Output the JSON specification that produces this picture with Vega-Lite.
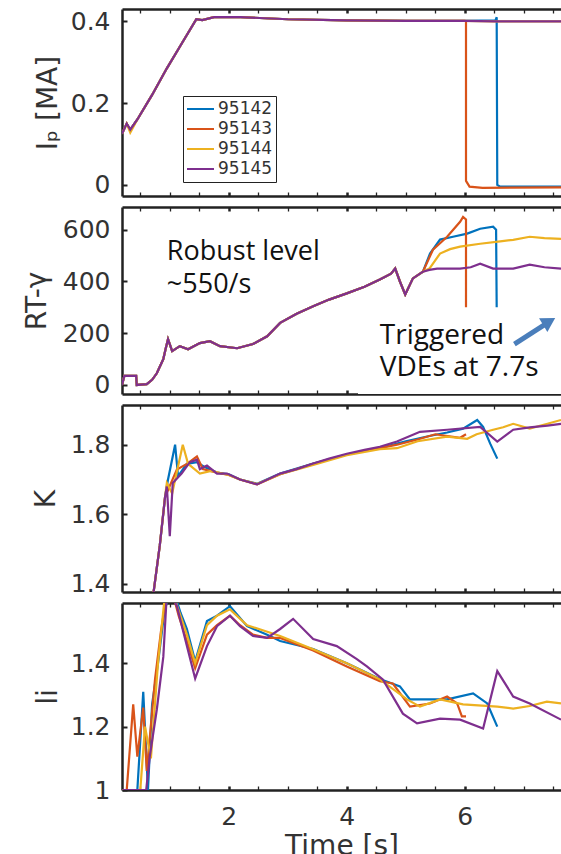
{
 "$schema": "https://vega.github.io/schema/vega-lite/v6.json",
 "padding": {"left": 23, "top": 7, "right": 0, "bottom": 0},
 "spacing": 11,
 "bounds": "flush",
 "config": {
  "view": {"stroke": null},
  "font": "DejaVu Sans",
  "axis": {"domainColor": "#222", "domainWidth": 2.5, "tickColor": "#222", "tickWidth": 2, "tickSize": -5, "labelFontSize": 25, "labelColor": "#333", "labelFont": "DejaVu Sans", "titleFont": "DejaVu Sans", "titleFontSize": 28, "titleFontWeight": "normal", "titleColor": "#333", "grid": false, "labelPadding": 17},
  "axisX": {"values": [0.5, 1, 1.5, 2, 2.5, 3, 3.5, 4, 4.5, 5, 5.5, 6, 6.5, 7, 7.5], "tickSize": -4, "tickWidth": {"condition": {"test": "datum.value % 2 === 0", "value": 2.5}, "value": 1.3}, "labelExpr": "datum.value % 2 === 0 ? '' + datum.value : ''"}
 },
 "resolve": {"scale": {"color": "independent"}, "legend": {"color": "independent"}},
 "datasets": {
  "ip": [
   {"s":"95142","t":0.19,"v":0.125},{"s":"95142","t":0.27,"v":0.15},{"s":"95142","t":0.33,"v":0.135},{"s":"95142","t":0.45,"v":0.16},{"s":"95142","t":0.7,"v":0.22},{"s":"95142","t":0.95,"v":0.285},{"s":"95142","t":1.2,"v":0.345},{"s":"95142","t":1.45,"v":0.405},{"s":"95142","t":1.55,"v":0.403},{"s":"95142","t":1.75,"v":0.41},{"s":"95142","t":2.2,"v":0.41},{"s":"95142","t":3.0,"v":0.405},{"s":"95142","t":4.0,"v":0.402},{"s":"95142","t":5.0,"v":0.401},{"s":"95142","t":6.0,"v":0.401},{"s":"95142","t":6.52,"v":0.402},{"s":"95142","t":6.54,"v":0.41},{"s":"95142","t":6.55,"v":0.0},{"s":"95142","t":6.6,"v":-0.004},{"s":"95142","t":7.63,"v":-0.004},
   {"s":"95143","t":0.19,"v":0.125},{"s":"95143","t":0.27,"v":0.15},{"s":"95143","t":0.33,"v":0.135},{"s":"95143","t":0.45,"v":0.16},{"s":"95143","t":0.7,"v":0.22},{"s":"95143","t":0.95,"v":0.285},{"s":"95143","t":1.2,"v":0.345},{"s":"95143","t":1.45,"v":0.405},{"s":"95143","t":1.55,"v":0.403},{"s":"95143","t":1.75,"v":0.41},{"s":"95143","t":2.2,"v":0.41},{"s":"95143","t":3.0,"v":0.405},{"s":"95143","t":4.0,"v":0.402},{"s":"95143","t":5.0,"v":0.401},{"s":"95143","t":6.0,"v":0.401},{"s":"95143","t":6.02,"v":0.40},{"s":"95143","t":6.02,"v":0.01},{"s":"95143","t":6.08,"v":-0.004},{"s":"95143","t":6.3,"v":-0.007},{"s":"95143","t":7.63,"v":-0.006},
   {"s":"95144","t":0.19,"v":0.125},{"s":"95144","t":0.27,"v":0.15},{"s":"95144","t":0.33,"v":0.128},{"s":"95144","t":0.45,"v":0.16},{"s":"95144","t":0.7,"v":0.22},{"s":"95144","t":0.95,"v":0.285},{"s":"95144","t":1.2,"v":0.345},{"s":"95144","t":1.45,"v":0.405},{"s":"95144","t":1.55,"v":0.403},{"s":"95144","t":1.75,"v":0.41},{"s":"95144","t":2.2,"v":0.41},{"s":"95144","t":3.0,"v":0.405},{"s":"95144","t":4.0,"v":0.402},{"s":"95144","t":5.0,"v":0.401},{"s":"95144","t":6.0,"v":0.401},{"s":"95144","t":6.5,"v":0.40},{"s":"95144","t":7.63,"v":0.40},
   {"s":"95145","t":0.19,"v":0.125},{"s":"95145","t":0.27,"v":0.15},{"s":"95145","t":0.33,"v":0.135},{"s":"95145","t":0.45,"v":0.16},{"s":"95145","t":0.7,"v":0.22},{"s":"95145","t":0.95,"v":0.285},{"s":"95145","t":1.2,"v":0.345},{"s":"95145","t":1.45,"v":0.405},{"s":"95145","t":1.55,"v":0.403},{"s":"95145","t":1.75,"v":0.41},{"s":"95145","t":2.2,"v":0.41},{"s":"95145","t":3.0,"v":0.405},{"s":"95145","t":4.0,"v":0.402},{"s":"95145","t":5.0,"v":0.401},{"s":"95145","t":6.0,"v":0.401},{"s":"95145","t":6.5,"v":0.40},{"s":"95145","t":7.63,"v":0.40}
  ],
  "rt": [
   {"s":"95142","t":0.19,"v":0},{"s":"95142","t":0.23,"v":35},{"s":"95142","t":0.43,"v":35},{"s":"95142","t":0.44,"v":0},{"s":"95142","t":0.61,"v":3},{"s":"95142","t":0.7,"v":20},{"s":"95142","t":0.78,"v":45},{"s":"95142","t":0.85,"v":80},{"s":"95142","t":0.89,"v":100},{"s":"95142","t":0.93,"v":140},{"s":"95142","t":0.97,"v":177},{"s":"95142","t":1.04,"v":131},{"s":"95142","t":1.17,"v":150},{"s":"95142","t":1.31,"v":138},{"s":"95142","t":1.51,"v":162},{"s":"95142","t":1.68,"v":169},{"s":"95142","t":1.85,"v":150},{"s":"95142","t":2.14,"v":142},{"s":"95142","t":2.41,"v":158},{"s":"95142","t":2.65,"v":188},{"s":"95142","t":2.87,"v":240},{"s":"95142","t":3.15,"v":275},{"s":"95142","t":3.43,"v":304},{"s":"95142","t":3.7,"v":330},{"s":"95142","t":4.0,"v":354},{"s":"95142","t":4.3,"v":380},{"s":"95142","t":4.56,"v":408},{"s":"95142","t":4.75,"v":430},{"s":"95142","t":4.82,"v":450},{"s":"95142","t":4.9,"v":400},{"s":"95142","t":4.99,"v":350},{"s":"95142","t":5.12,"v":412},{"s":"95142","t":5.29,"v":438},{"s":"95142","t":5.41,"v":508},{"s":"95142","t":5.58,"v":562},{"s":"95142","t":5.8,"v":573},{"s":"95142","t":6.04,"v":585},{"s":"95142","t":6.26,"v":604},{"s":"95142","t":6.48,"v":612},{"s":"95142","t":6.53,"v":600},{"s":"95142","t":6.55,"v":0},{"s":"95142","t":7.63,"v":0},
   {"s":"95143","t":0.19,"v":0},{"s":"95143","t":0.23,"v":35},{"s":"95143","t":0.43,"v":35},{"s":"95143","t":0.44,"v":0},{"s":"95143","t":0.61,"v":3},{"s":"95143","t":0.7,"v":20},{"s":"95143","t":0.78,"v":45},{"s":"95143","t":0.85,"v":80},{"s":"95143","t":0.89,"v":100},{"s":"95143","t":0.93,"v":140},{"s":"95143","t":0.97,"v":177},{"s":"95143","t":1.04,"v":131},{"s":"95143","t":1.17,"v":150},{"s":"95143","t":1.31,"v":138},{"s":"95143","t":1.51,"v":162},{"s":"95143","t":1.68,"v":169},{"s":"95143","t":1.85,"v":150},{"s":"95143","t":2.14,"v":142},{"s":"95143","t":2.41,"v":158},{"s":"95143","t":2.65,"v":188},{"s":"95143","t":2.87,"v":240},{"s":"95143","t":3.15,"v":275},{"s":"95143","t":3.43,"v":304},{"s":"95143","t":3.7,"v":330},{"s":"95143","t":4.0,"v":354},{"s":"95143","t":4.3,"v":380},{"s":"95143","t":4.56,"v":408},{"s":"95143","t":4.75,"v":430},{"s":"95143","t":4.82,"v":450},{"s":"95143","t":4.9,"v":400},{"s":"95143","t":4.99,"v":350},{"s":"95143","t":5.12,"v":412},{"s":"95143","t":5.29,"v":438},{"s":"95143","t":5.46,"v":523},{"s":"95143","t":5.70,"v":573},{"s":"95143","t":5.92,"v":631},{"s":"95143","t":5.97,"v":650},{"s":"95143","t":6.02,"v":640},{"s":"95143","t":6.02,"v":0},{"s":"95143","t":7.63,"v":0},
   {"s":"95144","t":0.19,"v":0},{"s":"95144","t":0.23,"v":35},{"s":"95144","t":0.43,"v":35},{"s":"95144","t":0.44,"v":0},{"s":"95144","t":0.61,"v":3},{"s":"95144","t":0.7,"v":20},{"s":"95144","t":0.78,"v":45},{"s":"95144","t":0.85,"v":80},{"s":"95144","t":0.89,"v":100},{"s":"95144","t":0.93,"v":140},{"s":"95144","t":0.97,"v":177},{"s":"95144","t":1.04,"v":131},{"s":"95144","t":1.17,"v":150},{"s":"95144","t":1.31,"v":138},{"s":"95144","t":1.51,"v":162},{"s":"95144","t":1.68,"v":169},{"s":"95144","t":1.85,"v":150},{"s":"95144","t":2.14,"v":142},{"s":"95144","t":2.41,"v":158},{"s":"95144","t":2.65,"v":188},{"s":"95144","t":2.87,"v":240},{"s":"95144","t":3.15,"v":275},{"s":"95144","t":3.43,"v":304},{"s":"95144","t":3.7,"v":330},{"s":"95144","t":4.0,"v":354},{"s":"95144","t":4.3,"v":380},{"s":"95144","t":4.56,"v":408},{"s":"95144","t":4.75,"v":430},{"s":"95144","t":4.82,"v":450},{"s":"95144","t":4.9,"v":400},{"s":"95144","t":4.99,"v":350},{"s":"95144","t":5.12,"v":412},{"s":"95144","t":5.29,"v":438},{"s":"95144","t":5.4,"v":450},{"s":"95144","t":5.58,"v":508},{"s":"95144","t":5.75,"v":525},{"s":"95144","t":5.92,"v":535},{"s":"95144","t":6.26,"v":546},{"s":"95144","t":6.6,"v":555},{"s":"95144","t":6.82,"v":561},{"s":"95144","t":7.1,"v":573},{"s":"95144","t":7.35,"v":568},{"s":"95144","t":7.63,"v":565},
   {"s":"95145","t":0.19,"v":0},{"s":"95145","t":0.23,"v":35},{"s":"95145","t":0.43,"v":35},{"s":"95145","t":0.44,"v":0},{"s":"95145","t":0.61,"v":3},{"s":"95145","t":0.7,"v":20},{"s":"95145","t":0.78,"v":45},{"s":"95145","t":0.85,"v":80},{"s":"95145","t":0.89,"v":100},{"s":"95145","t":0.93,"v":140},{"s":"95145","t":0.97,"v":177},{"s":"95145","t":1.04,"v":131},{"s":"95145","t":1.17,"v":150},{"s":"95145","t":1.31,"v":138},{"s":"95145","t":1.51,"v":162},{"s":"95145","t":1.68,"v":169},{"s":"95145","t":1.85,"v":150},{"s":"95145","t":2.14,"v":142},{"s":"95145","t":2.41,"v":158},{"s":"95145","t":2.65,"v":188},{"s":"95145","t":2.87,"v":240},{"s":"95145","t":3.15,"v":275},{"s":"95145","t":3.43,"v":304},{"s":"95145","t":3.7,"v":330},{"s":"95145","t":4.0,"v":354},{"s":"95145","t":4.3,"v":380},{"s":"95145","t":4.56,"v":408},{"s":"95145","t":4.75,"v":430},{"s":"95145","t":4.82,"v":450},{"s":"95145","t":4.9,"v":400},{"s":"95145","t":4.99,"v":350},{"s":"95145","t":5.12,"v":412},{"s":"95145","t":5.29,"v":438},{"s":"95145","t":5.4,"v":445},{"s":"95145","t":5.53,"v":450},{"s":"95145","t":5.92,"v":450},{"s":"95145","t":6.1,"v":455},{"s":"95145","t":6.26,"v":469},{"s":"95145","t":6.48,"v":450},{"s":"95145","t":6.82,"v":450},{"s":"95145","t":7.1,"v":465},{"s":"95145","t":7.35,"v":455},{"s":"95145","t":7.63,"v":450}
  ],
  "k": [
   {"s":"95142","t":0.72,"v":1.37},{"s":"95142","t":0.83,"v":1.51},{"s":"95142","t":0.92,"v":1.65},{"s":"95142","t":0.97,"v":1.70},{"s":"95142","t":1.09,"v":1.80},{"s":"95142","t":1.14,"v":1.71},{"s":"95142","t":1.29,"v":1.745},{"s":"95142","t":1.46,"v":1.75},{"s":"95142","t":1.6,"v":1.735},{"s":"95142","t":1.8,"v":1.72},{"s":"95142","t":2.0,"v":1.715},{"s":"95142","t":2.19,"v":1.70},{"s":"95142","t":2.48,"v":1.688},{"s":"95142","t":2.87,"v":1.717},{"s":"95142","t":3.43,"v":1.746},{"s":"95142","t":4.0,"v":1.772},{"s":"95142","t":4.56,"v":1.79},{"s":"95142","t":5.0,"v":1.81},{"s":"95142","t":5.4,"v":1.825},{"s":"95142","t":5.7,"v":1.835},{"s":"95142","t":5.97,"v":1.846},{"s":"95142","t":6.21,"v":1.871},{"s":"95142","t":6.31,"v":1.851},{"s":"95142","t":6.43,"v":1.803},{"s":"95142","t":6.55,"v":1.76},
   {"s":"95143","t":0.72,"v":1.37},{"s":"95143","t":0.83,"v":1.51},{"s":"95143","t":0.92,"v":1.65},{"s":"95143","t":0.97,"v":1.67},{"s":"95143","t":1.12,"v":1.729},{"s":"95143","t":1.29,"v":1.745},{"s":"95143","t":1.46,"v":1.766},{"s":"95143","t":1.56,"v":1.73},{"s":"95143","t":1.8,"v":1.72},{"s":"95143","t":2.0,"v":1.713},{"s":"95143","t":2.19,"v":1.70},{"s":"95143","t":2.48,"v":1.686},{"s":"95143","t":2.87,"v":1.715},{"s":"95143","t":3.43,"v":1.745},{"s":"95143","t":4.0,"v":1.772},{"s":"95143","t":4.56,"v":1.79},{"s":"95143","t":4.85,"v":1.80},{"s":"95143","t":5.2,"v":1.815},{"s":"95143","t":5.5,"v":1.83},{"s":"95143","t":5.92,"v":1.82},{"s":"95143","t":6.02,"v":1.83},
   {"s":"95144","t":0.72,"v":1.37},{"s":"95144","t":0.83,"v":1.51},{"s":"95144","t":0.92,"v":1.65},{"s":"95144","t":0.95,"v":1.69},{"s":"95144","t":1.04,"v":1.66},{"s":"95144","t":1.22,"v":1.80},{"s":"95144","t":1.31,"v":1.745},{"s":"95144","t":1.51,"v":1.717},{"s":"95144","t":1.7,"v":1.725},{"s":"95144","t":2.0,"v":1.713},{"s":"95144","t":2.19,"v":1.70},{"s":"95144","t":2.48,"v":1.687},{"s":"95144","t":2.87,"v":1.715},{"s":"95144","t":3.43,"v":1.742},{"s":"95144","t":4.0,"v":1.77},{"s":"95144","t":4.56,"v":1.787},{"s":"95144","t":4.85,"v":1.79},{"s":"95144","t":5.2,"v":1.81},{"s":"95144","t":5.7,"v":1.823},{"s":"95144","t":6.04,"v":1.817},{"s":"95144","t":6.2,"v":1.83},{"s":"95144","t":6.48,"v":1.843},{"s":"95144","t":6.65,"v":1.85},{"s":"95144","t":6.82,"v":1.86},{"s":"95144","t":7.1,"v":1.846},{"s":"95144","t":7.4,"v":1.86},{"s":"95144","t":7.63,"v":1.871},
   {"s":"95145","t":0.72,"v":1.37},{"s":"95145","t":0.83,"v":1.51},{"s":"95145","t":0.92,"v":1.65},{"s":"95145","t":0.95,"v":1.68},{"s":"95145","t":1.0,"v":1.537},{"s":"95145","t":1.05,"v":1.69},{"s":"95145","t":1.2,"v":1.717},{"s":"95145","t":1.34,"v":1.75},{"s":"95145","t":1.46,"v":1.757},{"s":"95145","t":1.51,"v":1.73},{"s":"95145","t":1.63,"v":1.74},{"s":"95145","t":1.80,"v":1.717},{"s":"95145","t":1.97,"v":1.717},{"s":"95145","t":2.19,"v":1.70},{"s":"95145","t":2.48,"v":1.686},{"s":"95145","t":2.87,"v":1.717},{"s":"95145","t":3.15,"v":1.73},{"s":"95145","t":3.43,"v":1.746},{"s":"95145","t":3.7,"v":1.76},{"s":"95145","t":4.0,"v":1.774},{"s":"95145","t":4.3,"v":1.785},{"s":"95145","t":4.56,"v":1.794},{"s":"95145","t":4.85,"v":1.809},{"s":"95145","t":5.24,"v":1.837},{"s":"95145","t":5.7,"v":1.843},{"s":"95145","t":6.26,"v":1.851},{"s":"95145","t":6.55,"v":1.809},{"s":"95145","t":6.82,"v":1.843},{"s":"95145","t":7.1,"v":1.85},{"s":"95145","t":7.4,"v":1.855},{"s":"95145","t":7.63,"v":1.86}
  ],
  "li": [
   {"s":"95142","t":0.2,"v":1.0},{"s":"95142","t":0.45,"v":1.0},{"s":"95142","t":0.55,"v":1.31},{"s":"95142","t":0.63,"v":1.0},{"s":"95142","t":0.70,"v":1.27},{"s":"95142","t":0.8,"v":1.4},{"s":"95142","t":0.9,"v":1.55},{"s":"95142","t":0.98,"v":1.62},{"s":"95142","t":1.08,"v":1.62},{"s":"95142","t":1.18,"v":1.56},{"s":"95142","t":1.29,"v":1.508},{"s":"95142","t":1.43,"v":1.406},{"s":"95142","t":1.63,"v":1.533},{"s":"95142","t":1.8,"v":1.55},{"s":"95142","t":2.02,"v":1.58},{"s":"95142","t":2.31,"v":1.517},{"s":"95142","t":2.65,"v":1.49},{"s":"95142","t":2.87,"v":1.47},{"s":"95142","t":3.43,"v":1.445},{"s":"95142","t":4.0,"v":1.40},{"s":"95142","t":4.56,"v":1.35},{"s":"95142","t":4.9,"v":1.327},{"s":"95142","t":5.07,"v":1.286},{"s":"95142","t":5.7,"v":1.286},{"s":"95142","t":6.14,"v":1.305},{"s":"95142","t":6.38,"v":1.273},{"s":"95142","t":6.55,"v":1.20},
   {"s":"95143","t":0.2,"v":1.0},{"s":"95143","t":0.27,"v":1.0},{"s":"95143","t":0.38,"v":1.27},{"s":"95143","t":0.45,"v":1.105},{"s":"95143","t":0.55,"v":1.26},{"s":"95143","t":0.61,"v":1.06},{"s":"95143","t":0.75,"v":1.35},{"s":"95143","t":0.85,"v":1.5},{"s":"95143","t":0.95,"v":1.62},{"s":"95143","t":1.05,"v":1.62},{"s":"95143","t":1.15,"v":1.55},{"s":"95143","t":1.29,"v":1.47},{"s":"95143","t":1.43,"v":1.384},{"s":"95143","t":1.63,"v":1.49},{"s":"95143","t":1.8,"v":1.52},{"s":"95143","t":2.02,"v":1.55},{"s":"95143","t":2.19,"v":1.52},{"s":"95143","t":2.41,"v":1.49},{"s":"95143","t":2.65,"v":1.48},{"s":"95143","t":2.87,"v":1.48},{"s":"95143","t":3.43,"v":1.44},{"s":"95143","t":4.0,"v":1.39},{"s":"95143","t":4.56,"v":1.343},{"s":"95143","t":4.78,"v":1.336},{"s":"95143","t":5.07,"v":1.263},{"s":"95143","t":5.41,"v":1.273},{"s":"95143","t":5.70,"v":1.295},{"s":"95143","t":5.87,"v":1.273},{"s":"95143","t":5.95,"v":1.232},{"s":"95143","t":6.02,"v":1.232},
   {"s":"95144","t":0.2,"v":1.0},{"s":"95144","t":0.5,"v":1.0},{"s":"95144","t":0.58,"v":1.2},{"s":"95144","t":0.68,"v":1.1},{"s":"95144","t":0.8,"v":1.4},{"s":"95144","t":0.92,"v":1.62},{"s":"95144","t":1.05,"v":1.62},{"s":"95144","t":1.18,"v":1.55},{"s":"95144","t":1.29,"v":1.49},{"s":"95144","t":1.43,"v":1.40},{"s":"95144","t":1.63,"v":1.52},{"s":"95144","t":1.8,"v":1.55},{"s":"95144","t":2.02,"v":1.57},{"s":"95144","t":2.31,"v":1.52},{"s":"95144","t":2.87,"v":1.486},{"s":"95144","t":3.43,"v":1.444},{"s":"95144","t":4.0,"v":1.40},{"s":"95144","t":4.56,"v":1.349},{"s":"95144","t":5.02,"v":1.286},{"s":"95144","t":5.24,"v":1.263},{"s":"95144","t":5.58,"v":1.286},{"s":"95144","t":5.97,"v":1.27},{"s":"95144","t":6.55,"v":1.263},{"s":"95144","t":6.82,"v":1.257},{"s":"95144","t":7.1,"v":1.265},{"s":"95144","t":7.39,"v":1.279},{"s":"95144","t":7.63,"v":1.273},
   {"s":"95145","t":0.2,"v":1.0},{"s":"95145","t":0.6,"v":1.0},{"s":"95145","t":0.66,"v":1.105},{"s":"95145","t":0.78,"v":1.254},{"s":"95145","t":0.89,"v":1.42},{"s":"95145","t":0.95,"v":1.62},{"s":"95145","t":1.02,"v":1.62},{"s":"95145","t":1.12,"v":1.58},{"s":"95145","t":1.29,"v":1.454},{"s":"95145","t":1.43,"v":1.352},{"s":"95145","t":1.63,"v":1.454},{"s":"95145","t":1.80,"v":1.517},{"s":"95145","t":2.02,"v":1.55},{"s":"95145","t":2.19,"v":1.517},{"s":"95145","t":2.41,"v":1.486},{"s":"95145","t":2.65,"v":1.48},{"s":"95145","t":2.87,"v":1.508},{"s":"95145","t":3.09,"v":1.54},{"s":"95145","t":3.43,"v":1.476},{"s":"95145","t":3.83,"v":1.454},{"s":"95145","t":4.17,"v":1.413},{"s":"95145","t":4.34,"v":1.39},{"s":"95145","t":4.61,"v":1.349},{"s":"95145","t":4.95,"v":1.241},{"s":"95145","t":5.19,"v":1.21},{"s":"95145","t":5.58,"v":1.225},{"s":"95145","t":5.92,"v":1.222},{"s":"95145","t":6.31,"v":1.194},{"s":"95145","t":6.55,"v":1.375},{"s":"95145","t":6.82,"v":1.295},{"s":"95145","t":7.1,"v":1.273},{"s":"95145","t":7.63,"v":1.222}
  ]
 },
 "vconcat": [
  {
   "width": 439, "height": 187,
   "resolve": {"scale": {"x": "independent"}, "axis": {"x": "independent"}},
   "layer": [
    {
     "data": {"name": "ip"},
     "mark": {"type": "line", "strokeWidth": 2.2, "clip": true},
     "encoding": {
      "x": {"field": "t", "type": "quantitative", "scale": {"domain": [0.19, 7.63], "nice": false, "zero": false}, "axis": {"orient": "bottom", "labels": false, "title": null}},
      "y": {"field": "v", "type": "quantitative", "scale": {"domain": [-0.027, 0.43], "nice": false, "zero": false}, "axis": {"values": [0, 0.2, 0.4], "labelExpr": "'' + datum.value", "title": "Iₚ [MA]", "titleX": -66, "titleBaseline": "alphabetic"}},
      "color": {"field": "s", "type": "nominal", "scale": {"domain": ["95142", "95143", "95144", "95145"], "range": ["#0072BD", "#D95319", "#EDB120", "#7E2F8E"]},
       "legend": {"orient": "none", "legendX": 61, "legendY": 87, "title": null, "symbolType": "stroke", "symbolSize": 729, "clipHeight": 20, "symbolStrokeWidth": 2, "labelFontSize": 17, "labelFont": "DejaVu Sans", "labelColor": "#333", "strokeColor": "#222", "fillColor": "white", "padding": 3, "rowPadding": 0, "labelOffset": 3}}
     }
    },
    {
     "data": {"name": "ip"},
     "mark": {"type": "line", "opacity": 0},
     "encoding": {
      "x": {"field": "t", "type": "quantitative", "scale": {"domain": [0.19, 7.63], "nice": false, "zero": false}, "axis": {"orient": "top", "labels": false, "title": null}},
      "y": {"field": "v", "type": "quantitative"}
     }
    }
   ]
  },
  {
   "width": 439, "height": 187,
   "resolve": {"scale": {"x": "independent"}, "axis": {"x": "independent"}},
   "layer": [
    {
     "layer": [
      {
       "data": {"name": "rt"},
       "mark": {"type": "line", "strokeWidth": 2.2, "clip": true},
       "encoding": {
        "x": {"field": "t", "type": "quantitative", "scale": {"domain": [0.19, 7.63], "nice": false, "zero": false}, "axis": {"orient": "bottom", "labels": false, "title": null}},
        "y": {"field": "v", "type": "quantitative", "scale": {"domain": [-35, 688], "nice": false, "zero": false}, "axis": {"values": [0, 200, 400, 600], "title": "RT-γ", "titleX": -77, "titleBaseline": "alphabetic"}},
        "color": {"field": "s", "type": "nominal", "scale": {"domain": ["95142", "95143", "95144", "95145"], "range": ["#0072BD", "#D95319", "#EDB120", "#7E2F8E"]}, "legend": null}
       }
      },
      {
       "data": {"values": [{"t1": 4.19, "t2": 7.63, "v1": -35, "v2": 300}]},
       "mark": {"type": "rect", "fill": "white", "clip": true},
       "encoding": {
        "x": {"field": "t1", "type": "quantitative"}, "x2": {"field": "t2"},
        "y": {"field": "v1", "type": "quantitative"}, "y2": {"field": "v2"}
       }
      },
      {
       "data": {"values": [{"t": 0.95, "v": 485, "label": "Robust level"}, {"t": 0.95, "v": 354, "label": "~550/s"}]},
       "mark": {"type": "text", "align": "left", "baseline": "alphabetic", "font": "Open Sans", "fontSize": 27, "color": "#111"},
       "encoding": {"x": {"field": "t", "type": "quantitative"}, "y": {"field": "v", "type": "quantitative"}, "text": {"field": "label"}}
      },
      {
       "data": {"values": [{"t": 4.56, "v": 158, "label": "Triggered"}, {"t": 4.56, "v": 35, "label": "VDEs at 7.7s"}]},
       "mark": {"type": "text", "align": "left", "baseline": "alphabetic", "font": "Open Sans", "fontSize": 28, "color": "#111"},
       "encoding": {"x": {"field": "t", "type": "quantitative"}, "y": {"field": "v", "type": "quantitative"}, "text": {"field": "label"}}
      },
      {
       "data": {"values": [{"t": 6.84, "v": 158, "t2": 7.40, "v2": 240}]},
       "mark": {"type": "rule", "strokeWidth": 5, "color": "#4A7EBB"},
       "encoding": {"x": {"field": "t", "type": "quantitative"}, "y": {"field": "v", "type": "quantitative"}, "x2": {"field": "t2"}, "y2": {"field": "v2"}}
      },
      {
       "data": {"values": [{"t": 7.43, "v": 245}]},
       "mark": {"type": "point", "shape": "triangle-right", "size": 260, "filled": true, "opacity": 1, "color": "#4A7EBB", "angle": 329},
       "encoding": {"x": {"field": "t", "type": "quantitative"}, "y": {"field": "v", "type": "quantitative"}}
      }
     ]
    },
    {
     "data": {"name": "rt"},
     "mark": {"type": "line", "opacity": 0},
     "encoding": {
      "x": {"field": "t", "type": "quantitative", "scale": {"domain": [0.19, 7.63], "nice": false, "zero": false}, "axis": {"orient": "top", "labels": false, "title": null}},
      "y": {"field": "v", "type": "quantitative"}
     }
    }
   ]
  },
  {
   "width": 439, "height": 187,
   "resolve": {"scale": {"x": "independent"}, "axis": {"x": "independent"}},
   "layer": [
    {
     "data": {"name": "k"},
     "mark": {"type": "line", "strokeWidth": 2.2, "clip": true},
     "encoding": {
      "x": {"field": "t", "type": "quantitative", "scale": {"domain": [0.19, 7.63], "nice": false, "zero": false}, "axis": {"orient": "bottom", "labels": false, "title": null}},
      "y": {"field": "v", "type": "quantitative", "scale": {"domain": [1.377, 1.914], "nice": false, "zero": false}, "axis": {"values": [1.4, 1.6, 1.8], "labelExpr": "'' + datum.value", "title": "K", "titleX": -68, "titleBaseline": "alphabetic"}},
      "color": {"field": "s", "type": "nominal", "scale": {"domain": ["95142", "95143", "95144", "95145"], "range": ["#0072BD", "#D95319", "#EDB120", "#7E2F8E"]}, "legend": null}
     }
    },
    {
     "data": {"name": "k"},
     "mark": {"type": "line", "opacity": 0},
     "encoding": {
      "x": {"field": "t", "type": "quantitative", "scale": {"domain": [0.19, 7.63], "nice": false, "zero": false}, "axis": {"orient": "top", "labels": false, "title": null}},
      "y": {"field": "v", "type": "quantitative"}
     }
    }
   ]
  },
  {
   "width": 439, "height": 187,
   "resolve": {"scale": {"x": "independent"}, "axis": {"x": "independent"}},
   "layer": [
    {
     "data": {"name": "li"},
     "mark": {"type": "line", "strokeWidth": 2.2, "clip": true},
     "encoding": {
      "x": {"field": "t", "type": "quantitative", "scale": {"domain": [0.19, 7.63], "nice": false, "zero": false}, "axis": {"orient": "bottom", "title": "Time [s]", "labelPadding": 18, "titlePadding": 3}},
      "y": {"field": "v", "type": "quantitative", "scale": {"domain": [1.0, 1.59], "nice": false, "zero": false}, "axis": {"values": [1, 1.2, 1.4], "labelExpr": "'' + datum.value", "title": "li", "titleX": -66, "titleBaseline": "alphabetic"}},
      "color": {"field": "s", "type": "nominal", "scale": {"domain": ["95142", "95143", "95144", "95145"], "range": ["#0072BD", "#D95319", "#EDB120", "#7E2F8E"]}, "legend": null}
     }
    },
    {
     "data": {"name": "li"},
     "mark": {"type": "line", "opacity": 0},
     "encoding": {
      "x": {"field": "t", "type": "quantitative", "scale": {"domain": [0.19, 7.63], "nice": false, "zero": false}, "axis": {"orient": "top", "labels": false, "title": null}},
      "y": {"field": "v", "type": "quantitative"}
     }
    }
   ]
  }
 ]
}
